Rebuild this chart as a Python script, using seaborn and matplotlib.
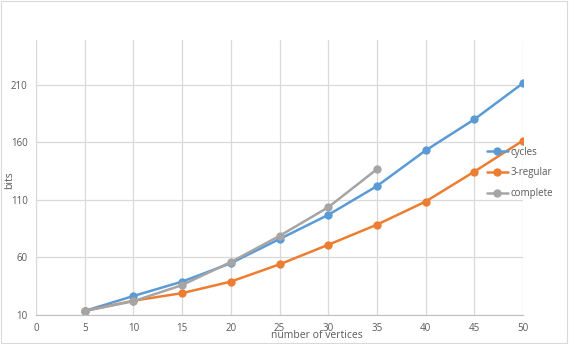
import pandas as pd
import seaborn as sns
import matplotlib.pyplot as plt

# values
vertices = [5, 10, 15, 20, 25, 30, 35, 40, 45, 50]
cycles = [13.5, 26.5, 39, 55, 76, 97, 122, 153, 180, 211.5]
regular3 = [13.5, 22.4, 29, 39, 54, 71, 88.5, 108.6, 134.6, 161.6]
complete_v = [5, 10, 15, 20, 25, 30, 35]
complete = [13.5, 22, 36, 56, 78.7, 103.6, 136.7]
yticks = [10, 60, 110, 160, 210]
xticks = [0, 5, 10, 15, 20, 25, 30, 35, 40, 45, 50]

df = pd.concat([
    pd.DataFrame({'n': vertices, 'bits': cycles, 'series': 'cycles'}),
    pd.DataFrame({'n': vertices, 'bits': regular3, 'series': '3-regular'}),
    pd.DataFrame({'n': complete_v, 'bits': complete, 'series': 'complete'}),
])

sns.set_style('white')
plt.rcParams['font.family'] = ['Open Sans', 'DejaVu Sans']

colors = {'cycles': '#5B9BD5', '3-regular': '#ED7D31', 'complete': '#A5A5A5'}

fig = plt.figure(figsize=(5.69, 3.44), dpi=100)
ax = fig.add_axes([36 / 569, 1 - 315 / 344, (523 - 36) / 569, (315 - 40) / 344])

sns.lineplot(data=df, x='n', y='bits', hue='series', palette=colors,
             marker='o', markersize=6, markeredgewidth=0, linewidth=1.8,
             ax=ax, legend=True)

ax.set_xlim(0, 50)
ax.set_ylim(10, 249)
ax.set_xticks(xticks)
ax.set_yticks(yticks)
ax.grid(True, color='#D9D9D9', linewidth=0.9)
ax.set_axisbelow(True)
for side in ['top', 'right']:
    ax.spines[side].set_visible(False)
ax.spines['left'].set_color('#D9D9D9')
ax.spines['bottom'].set_color('#BFBFBF')
ax.tick_params(axis='both', length=0, labelsize=7, labelcolor='#595959', pad=6)
ax.set_xlabel('')
ax.set_ylabel('')

fig.text(10 / 569, 1 - 180 / 344, 'bits', rotation=90, fontsize=7.5,
         color='#595959', ha='center', va='center')
fig.text(317 / 569, 1 - 335 / 344, 'number of vertices', fontsize=7.5,
         color='#595959', ha='center', va='center')

handles, labels = ax.get_legend_handles_labels()
ax.legend(handles, labels, loc='upper left', bbox_to_anchor=(478 / 569, 1 - 138 / 344),
          bbox_transform=fig.transFigure, frameon=False, fontsize=7,
          handlelength=2.2, handletextpad=0.2, labelspacing=1.0,
          labelcolor='#595959')

# light border around the chart area
fig.patches.append(plt.Rectangle((0.002, 0.002), 0.994, 0.994, transform=fig.transFigure,
                                 fill=False, edgecolor='#D9D9D9', linewidth=0.8))

fig.savefig('out.png', dpi=100)
